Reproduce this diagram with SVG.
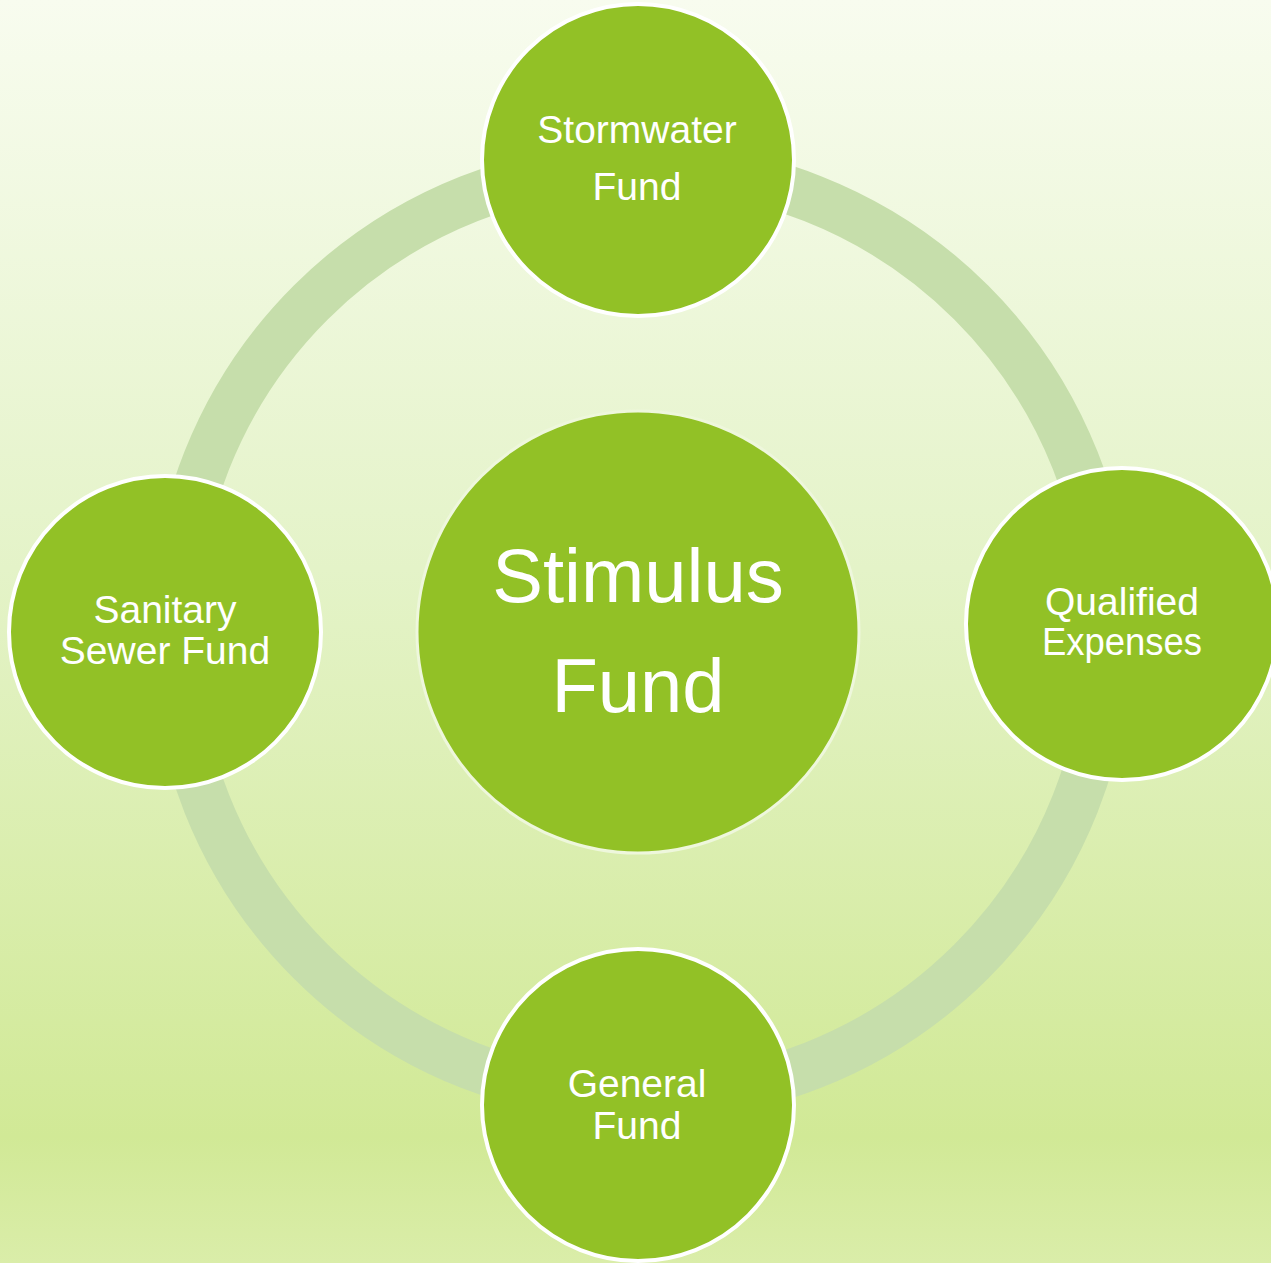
<svg xmlns="http://www.w3.org/2000/svg" width="1271" height="1263" viewBox="0 0 1271 1263">
  <defs>
    <linearGradient id="bg" x1="0" y1="0" x2="0" y2="1">
      <stop offset="0" stop-color="#f8fcef"/>
      <stop offset="0.45" stop-color="#e4f3c8"/>
      <stop offset="0.9" stop-color="#d1e996"/>
      <stop offset="1" stop-color="#daeda9"/>
    </linearGradient>
    <style>
      .node { fill: #92c126; stroke: #ffffff; stroke-width: 4; }
      .center { fill: #92c126; stroke: #eef7dc; stroke-width: 3; }
      .lbl { font-family: "Liberation Sans", Arial, sans-serif; fill: #ffffff; text-anchor: middle; font-size: 39px; }
      .big { font-family: "Liberation Sans", Arial, sans-serif; fill: #ffffff; text-anchor: middle; font-size: 76px; }
    </style>
  </defs>
  <rect x="0" y="0" width="1271" height="1263" fill="url(#bg)"/>
  <g id="connectors">
    <ellipse cx="641" cy="632" rx="467" ry="466" fill="none" stroke="#c6deab" stroke-width="48"/>
  </g>
  <g id="node-center">
    <circle class="center" cx="638" cy="632" r="221"/>
    <text class="big" x="638" y="602">Stimulus</text>
    <text class="big" x="638" y="712">Fund</text>
  </g>
  <g id="node-top">
    <circle class="node" cx="638" cy="160" r="156"/>
    <text class="lbl" x="637" y="143">Stormwater</text>
    <text class="lbl" x="637" y="200">Fund</text>
  </g>
  <g id="node-right">
    <circle class="node" cx="1122" cy="624" r="156"/>
    <text class="lbl" x="1122" y="615">Qualified</text>
    <text class="lbl" x="1122" y="655" textLength="160" lengthAdjust="spacingAndGlyphs">Expenses</text>
  </g>
  <g id="node-bottom">
    <circle class="node" cx="638" cy="1105" r="156"/>
    <text class="lbl" x="637" y="1097">General</text>
    <text class="lbl" x="637" y="1139">Fund</text>
  </g>
  <g id="node-left">
    <circle class="node" cx="165" cy="632" r="156"/>
    <text class="lbl" x="165" y="623">Sanitary</text>
    <text class="lbl" x="165" y="664">Sewer Fund</text>
  </g>
</svg>
